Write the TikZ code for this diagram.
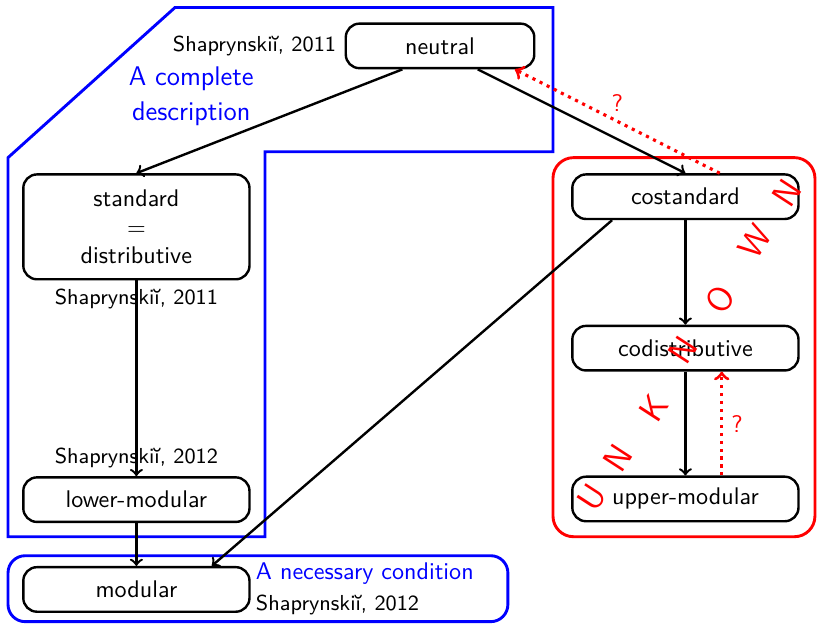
\documentclass[tikz,border=0pt]{standalone}
\usepackage{tikz}
\usetikzlibrary{positioning}
\tikzstyle{prop} = [draw, rounded corners=0.2cm, line width=1pt, minimum width=3.3cm, minimum height=0.65cm, align=center]
\tikzstyle{impl} = [->, line width=1pt]
\tikzstyle{open} = [->, red, dotted, line width=1.3pt]
\tikzstyle{cite} = [font=\small\sffamily]
\tikzstyle{region} = [line width=1.2pt]

\begin{document}
\begin{tikzpicture}[every node/.style={font=\sffamily}]
    \useasboundingbox (0,0) rectangle (11.92,9.10);

    % regions
    \draw [blue, region] (0.117,6.80) -- (2.553,8.99) -- (8.068,8.99) -- (8.068,6.886)
        -- (3.866,6.886) -- (3.866,1.269) -- (0.117,1.269) -- cycle;
    \draw [red, region, rounded corners=0.3cm] (8.068,6.80) rectangle (11.89,1.269);
    \draw [blue, region, rounded corners=0.25cm] (0.117,0.992) rectangle (7.41,0.03);

    % properties
    \node [prop, minimum width=2.75cm] (neutral) at (6.42,8.43) {neutral};
    \node [prop, minimum height=1.53cm] (standard) at (1.99,5.79) {standard\\=\\distributive};
    \node [prop] (lowmod) at (1.99,1.81) {lower-modular};
    \node [prop] (modular) at (1.99,0.50) {modular};
    \node [prop] (costandard) at (10.00,6.23) {costandard};
    \node [prop] (codist) at (10.00,4.02) {codistributive};
    \node [prop] (upmod) at (10.00,1.82) {upper-modular};

    % references
    \node [cite, left=0pt of neutral] (cite_neutral) {Shaprynski\u{\i}, 2011};
    \node [cite, below=0pt of standard] (cite_standard) {Shaprynski\u{\i}, 2011};
    \node [cite, above=0pt of lowmod] (cite_lowmod) {Shaprynski\u{\i}, 2012};
    \node [blue, anchor=south west, inner sep=2pt] (necessary) at (modular.east) {A necessary condition};
    \node [cite, anchor=north west, inner sep=2pt] (cite_modular) at (modular.east) {Shaprynski\u{\i}, 2012};
    \node [blue, align=center, font=\sffamily\fontsize{11.2}{14.5}\selectfont] (complete) at (2.79,7.69) {A complete\\description};

    % implications
    \draw [impl] ([xshift=-0.55cm]neutral.south) -- (standard.north);
    \draw [impl] ([xshift=0.55cm]neutral.south) -- (costandard.north);
    \draw [impl] (standard) -- (lowmod);
    \draw [impl] (lowmod) -- (modular);
    \draw [impl] (costandard) -- (codist);
    \draw [impl] (codist) -- (upmod);
    \draw [impl] ([xshift=-1.07cm]costandard.south) -- ([xshift=1.1cm]modular.north);

    % open questions
    \draw [open] ([xshift=0.5cm]costandard.north) -- ([xshift=-0.3cm]neutral.south east)
        node [midway, above, font=\sffamily] (q1) {?};
    \draw [open] ([xshift=0.53cm]upmod.north) -- ([xshift=0.53cm]codist.south)
        node [midway, right, font=\sffamily] (q2) {?};

    \foreach \l/\x/\y [count=\i] in {U/8.637/1.838, N/9.017/2.422, K/9.542/3.151, N/9.965/3.998,
        O/10.505/4.727, W/11.015/5.573, N/11.482/6.288}
        \node [red, rotate=57, font=\Large\sffamily] (unknown\i) at (\x,\y) {\l};
\end{tikzpicture}
\end{document}
